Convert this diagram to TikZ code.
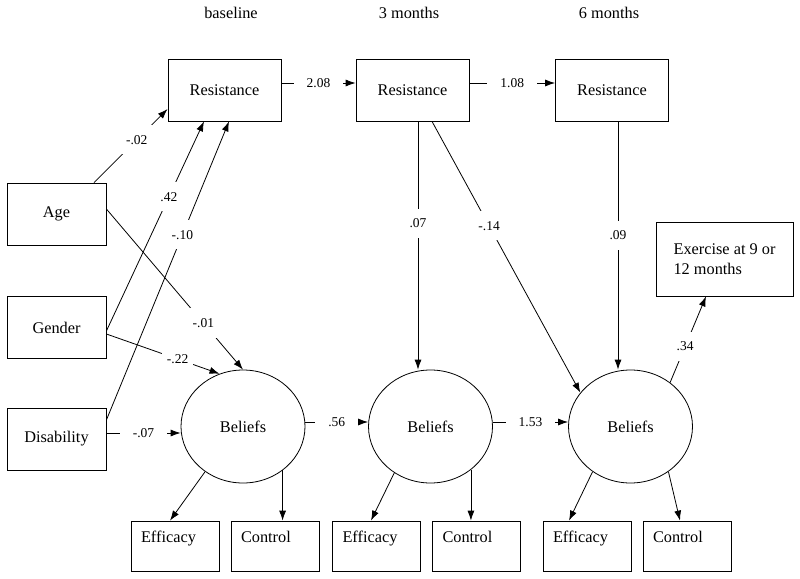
\documentclass[tikz,border=0pt]{standalone}
\usepackage{fontspec}
\setmainfont{Liberation Serif}
\usetikzlibrary{arrows.meta,shapes.geometric}
\newcommand{\txtsize}{\fontsize{16.3}{20}\selectfont}
\newcommand{\coefsize}{\fontsize{13.5}{16}\selectfont}

\begin{document}
\begin{tikzpicture}[x=1pt, y=-1pt,
	varbox/.style={draw, line width=0.8pt, minimum width=99pt, minimum height=62pt, inner sep=0pt, font=\txtsize},
	resbox/.style={varbox, minimum width=113pt},
	indbox/.style={draw, line width=0.8pt, minimum width=88pt, minimum height=50pt, text width=68pt, align=left, text height=12pt, text depth=20pt, inner xsep=10pt, inner ysep=0pt, font=\txtsize},
	exbox/.style={draw, line width=0.8pt, minimum width=137pt, minimum height=74pt, align=left, font=\txtsize},
	latent/.style={draw, ellipse, line width=0.8pt, minimum width=124pt, minimum height=113pt, inner sep=0pt, font=\txtsize},
	regr/.style={line width=0.8pt, -{Latex[length=10pt,width=7pt]}},
	coef/.style={fill=white, inner xsep=5pt, inner ysep=10pt, font=\coefsize},
	hcoef/.style={coef, inner xsep=13pt, inner ysep=2pt},
	head/.style={font=\txtsize}]
			%%%%% START %%%%%
			\useasboundingbox (0,0) rectangle (800,578);
			
			\node[head] (hd0) at (231,13) {baseline};
			\node[head] (hd3) at (409,13) {3 months};
			\node[head] (hd6) at (609,13) {6 months};
			
			\node[resbox] (res0) at (224.5,90) {Resistance};
			\node[resbox] (res3) at (412.5,90) {Resistance};
			\node[resbox] (res6) at (612,90) {Resistance};
			
			\node[varbox] (age) at (56.5,214) {Age};
			\node[varbox] (gender) at (56.5,327.5) {Gender};
			\node[varbox] (disab) at (56.5,439) {Disability};
			
			\node[latent] (bel0) at (243,426.5) {Beliefs};
			\node[latent] (bel3) at (430.5,426.5) {Beliefs};
			\node[latent] (bel6) at (630.5,426.5) {Beliefs};
			
			\node[indbox] (eff0) at (175,546) {Efficacy};
			\node[indbox] (ctl0) at (275,546) {Control};
			\node[indbox] (eff3) at (376.5,546) {Efficacy};
			\node[indbox] (ctl3) at (476.5,546) {Control};
			\node[indbox] (eff6) at (587,546) {Efficacy};
			\node[indbox] (ctl6) at (687,546) {Control};
			
			\node[exbox] (exer) at (724.5,259) {Exercise at 9 or\\12 months};
			
			% resistance over time
			\draw[regr] ([yshift=7pt]res0.east) -- node[hcoef] (k1) {2.08} ([yshift=7pt]res3.west);
			\draw[regr] ([yshift=7pt]res3.east) -- node[hcoef] (k2) {1.08} ([yshift=7pt]res6.west);
			\draw[regr] ([xshift=5.5pt]res3.south) -- node[coef, pos=0.41] (k3) {.07} ([xshift=5.5pt]res3.south |- bel3.north);
			\draw[regr] ([xshift=19.5pt]res3.south) -- node[coef, pos=0.385] (k4) {-.14} (bel6.146);
			\draw[regr] ([xshift=6pt]res6.south) -- node[coef, pos=0.46] (k5) {.09} ([xshift=6pt]res6.south |- bel6.north);
			
			% beliefs over time
			\draw[regr] ([yshift=4.5pt]bel0.east) -- node[hcoef] (k6) {.56} ([yshift=4.5pt]bel3.west);
			\draw[regr] ([yshift=4.5pt]bel3.east) -- node[hcoef] (k7) {1.53} ([yshift=4.5pt]bel6.west);
			\draw[regr] (bel6.48) -- node[coef, pos=0.42] (k8) {.34} ([xshift=-18.5pt]exer.south);
			
			% covariates
			\draw[regr] ([xshift=37.5pt]age.north) -- node[coef, pos=0.58] (k9) {-.02} ([yshift=-19pt]res0.west);
			\draw[regr] ([yshift=-3.5pt]gender.east) -- node[coef, pos=0.64] (k10) {.42} ([xshift=-20.5pt]res0.south);
			\draw[regr] ([yshift=19pt]disab.east) -- node[coef, pos=0.62] (k11) {-.10} ([xshift=4.5pt]res0.south);
			\draw[regr] ([yshift=5pt]age.east) -- node[coef, pos=0.71] (k12) {-.01} (bel0.north);
			\draw[regr] ([yshift=-6.5pt]gender.east) -- node[coef, pos=0.63] (k13) {-.22} (bel0.114);
			\draw[regr] ([yshift=6pt]disab.east) -- node[hcoef] (k14) {-.07} ([yshift=6pt]disab.east -| bel0.west);
			
			% indicators
			\draw[regr] (bel0.230) -- ([xshift=-5pt]eff0.north);
			\draw[regr] (bel0.312) -- (bel0.312 |- ctl0.north);
			\draw[regr] (bel3.232) -- ([xshift=-5.5pt]eff3.north);
			\draw[regr] (bel3.313) -- (bel3.313 |- ctl3.north);
			\draw[regr] (bel6.230) -- ([xshift=-18pt]eff6.north);
			\draw[regr] (bel6.310) -- ([xshift=-7pt]ctl6.north);
			
			%%%%% END %%%%%
\end{tikzpicture}
\end{document}
